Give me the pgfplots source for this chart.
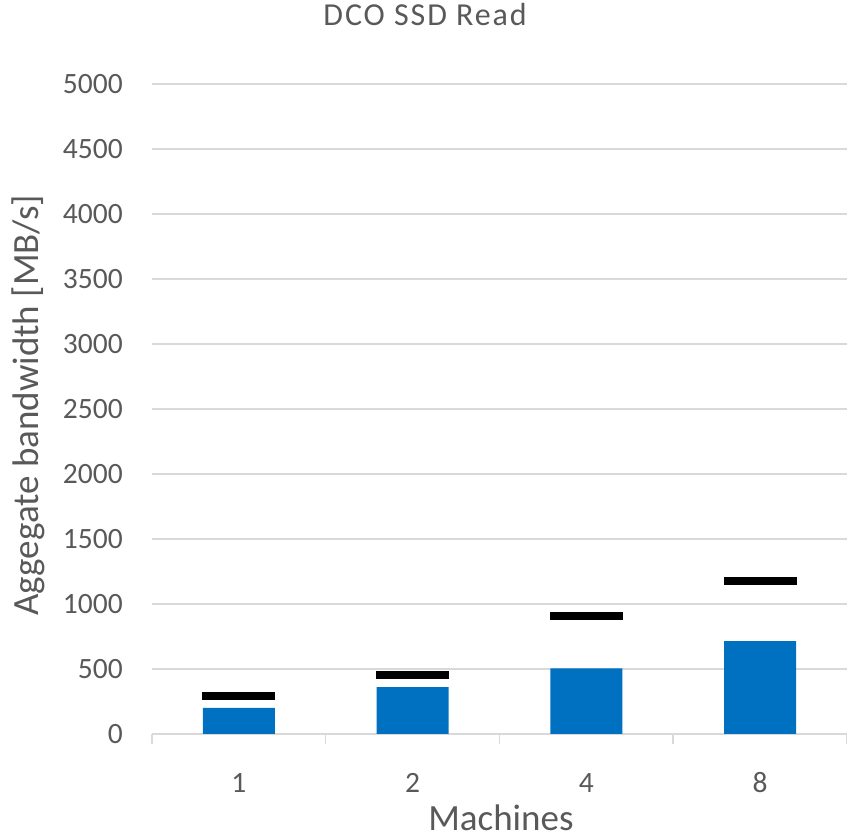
\documentclass[border=0pt]{standalone}
\usepackage{pgfplots}
\pgfplotsset{compat=1.18}
\usepackage{fontspec}
\setmainfont{Carlito}
\newfontfamily\titlefont[LetterSpace=6]{Carlito}
\definecolor{barblue}{HTML}{0070C0}
\definecolor{gridgray}{HTML}{D9D9D9}
\definecolor{textgray}{HTML}{595959}

\begin{document}
\begin{tikzpicture}[x=1pt,y=1pt]
\path[use as bounding box] (-152,-106) rectangle (695,734);
\begin{axis}[
  at={(0,0)}, anchor=south west,
  scale only axis, width=695pt, height=650pt,
  xmin=-0.5, xmax=3.5, ymin=0, ymax=5000,
  axis x line*=bottom, axis y line*=left,
  y axis line style={draw=none},
  x axis line style={gridgray, line width=1.5pt, -},
  xtick={-0.5,0.5,1.5,2.5,3.5},
  x tick label as interval,
  xticklabels={1,2,4,8},
  xtick align=outside,
  major tick length=10pt,
  x tick style={gridgray, line width=1.5pt},
  ytick={0,500,...,5000},
  y tick style={draw=none},
  ymajorgrids, grid style={gridgray, line width=1.5pt},
  /pgf/number format/assume math mode=true,
  tick label style={font=\fontsize{29.5}{32}\selectfont, text=textgray},
  yticklabel style={anchor=east, inner sep=0pt, xshift=-29pt},
  xticklabel style={anchor=base, inner sep=0pt, yshift=-49pt},
  scaled y ticks=false,
  yticklabel={\pgfmathprintnumber[fixed, 1000 sep={}, assume math mode=true]{\tick}},
  title={\titlefont DCO SSD Read},
  title style={at={(axis description cs:0.393,1.08)}, anchor=base, inner sep=0pt,
    font=\fontsize{32}{36}\selectfont, text=textgray},
  xlabel={Machines},
  xlabel style={at={(axis description cs:0.502,-0.148)}, anchor=base, inner sep=0pt,
    font=\fontsize{37}{40}\selectfont, text=textgray},
  ylabel={Aggegate bandwidth [MB/s]},
  ylabel style={at={(axis description cs:-0.1626,0.506)}, anchor=base, inner sep=0pt,
    font=\fontsize{37}{40}\selectfont, text=textgray},
  clip=false,
]
% measured bandwidth per machine count
\addplot[ybar, bar width=72pt, fill=barblue, draw=none]
  coordinates {(0,200) (1,360) (2,505) (3,715)};
% reference level per machine count
\addplot[only marks, mark=-, mark size=36.5pt, mark options={line width=8pt, draw=black}]
  coordinates {(0,290) (1,455) (2,910) (3,1180)};
\end{axis}
\end{tikzpicture}
\end{document}
